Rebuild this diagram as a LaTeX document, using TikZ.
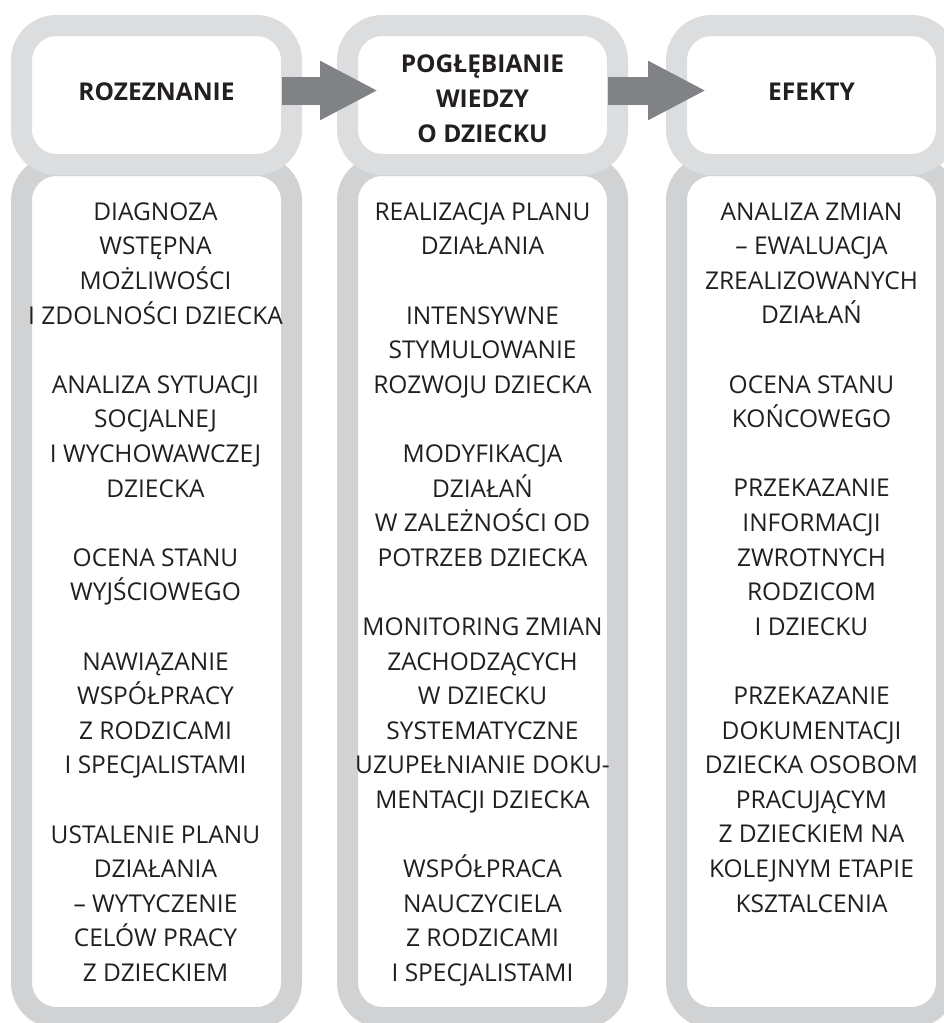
\documentclass[tikz,border=0pt]{standalone}
\usepackage{fontspec}
\setmainfont{Open Sans}
\newfontfamily\headfont{Open Sans}[BoldFont={* Bold}]
\usetikzlibrary{arrows.meta}
\definecolor{topgray}{HTML}{DCDDDE}
\definecolor{botgray}{HTML}{D1D2D4}
\definecolor{arrgray}{HTML}{808285}
\definecolor{txt}{HTML}{231F20}
\tikzset{
  frame/.style={draw, line width=21pt, rounded corners=35pt, fill=white, inner sep=0pt, outer sep=0pt, minimum width=270pt},
  topbox/.style={frame, draw=topgray, minimum height=139pt},
  botbox/.style={frame, draw=botgray, minimum height=852pt},
  headtxt/.style={inner sep=0pt, outer sep=0pt, align=center, text=txt, font=\headfont\bfseries\fontsize{24.5}{34.7}\selectfont},
  bodytxt/.style={inner sep=0pt, outer sep=0pt, align=center, anchor=north, text=txt, font=\fontsize{24.5}{34.6}\selectfont},
  bigarrow/.style={draw=arrgray, line width=28pt, line cap=butt, -{Triangle[width=55pt,length=58pt]}}
}
\begin{document}
\begin{tikzpicture}[x=1pt,y=1pt]
\useasboundingbox (0,0) rectangle (943,-1023);
% bottom boxes
\node[botbox] (b1) at (156.5,-591.5) {};
\node[botbox] (b2) at (482.5,-591.5) {};
\node[botbox] (b3) at (811.5,-591.5) {};
% top boxes
\node[topbox] (t1) at (156.5,-95) {};
\node[topbox] (t2) at (482.5,-95) {};
\node[topbox] (t3) at (811.5,-95) {};
% arrows
\draw[bigarrow] ([xshift=-9.5pt,yshift=4.5pt]t1.east) -- ([xshift=30.5pt,yshift=4.5pt]t2.west);
\draw[bigarrow] ([xshift=-9.5pt,yshift=4.5pt]t2.east) -- ([xshift=29.5pt,yshift=4.5pt]t3.west);
% headings
\node[headtxt] (h1) at ([yshift=3.3pt]t1.center) {ROZEZNANIE};
\node[headtxt] (h2) at ([yshift=-3.9pt]t2.center) {POGŁĘBIANIE\\WIEDZY\\O DZIECKU};
\node[headtxt] (h3) at ([yshift=3.3pt]t3.center) {EFEKTY};
% body texts
\node[bodytxt] (x1) at ([xshift=-1pt,yshift=-37pt]b1.north) {DIAGNOZA\\WSTĘPNA\\MOŻLIWOŚCI\\I ZDOLNOŚCI DZIECKA\\[34.6pt]
ANALIZA SYTUACJI\\SOCJALNEJ\\I WYCHOWAWCZEJ\\DZIECKA\\[34.6pt]
OCENA STANU\\WYJŚCIOWEGO\\[34.6pt]
NAWIĄZANIE\\WSPÓŁPRACY\\Z RODZICAMI\\I SPECJALISTAMI\\[34.6pt]
USTALENIE PLANU\\DZIAŁANIA\\– WYTYCZENIE\\CELÓW PRACY\\Z DZIECKIEM};
\node[bodytxt] (x2) at ([yshift=-37pt]b2.north) {REALIZACJA PLANU\\DZIAŁANIA\\[34.6pt]
INTENSYWNE\\STYMULOWANIE\\ROZWOJU DZIECKA\\[34.6pt]
MODYFIKACJA\\DZIAŁAŃ\\W ZALEŻNOŚCI OD\\POTRZEB DZIECKA\\[34.6pt]
MONITORING ZMIAN\\ZACHODZĄCYCH\\W DZIECKU\\SYSTEMATYCZNE\\UZUPEŁNIANIE DOKU-\\MENTACJI DZIECKA\\[34.6pt]
WSPÓŁPRACA\\NAUCZYCIELA\\Z RODZICAMI\\I SPECJALISTAMI};
\node[bodytxt] (x3) at ([yshift=-37pt]b3.north) {ANALIZA ZMIAN\\– EWALUACJA\\ZREALIZOWANYCH\\DZIAŁAŃ\\[34.6pt]
OCENA STANU\\KOŃCOWEGO\\[34.6pt]
PRZEKAZANIE\\INFORMACJI\\ZWROTNYCH\\RODZICOM\\I DZIECKU\\[34.6pt]
PRZEKAZANIE\\DOKUMENTACJI\\DZIECKA OSOBOM\\PRACUJĄCYM\\Z DZIECKIEM NA\\KOLEJNYM ETAPIE\\KSZTALCENIA};
\end{tikzpicture}
\end{document}
